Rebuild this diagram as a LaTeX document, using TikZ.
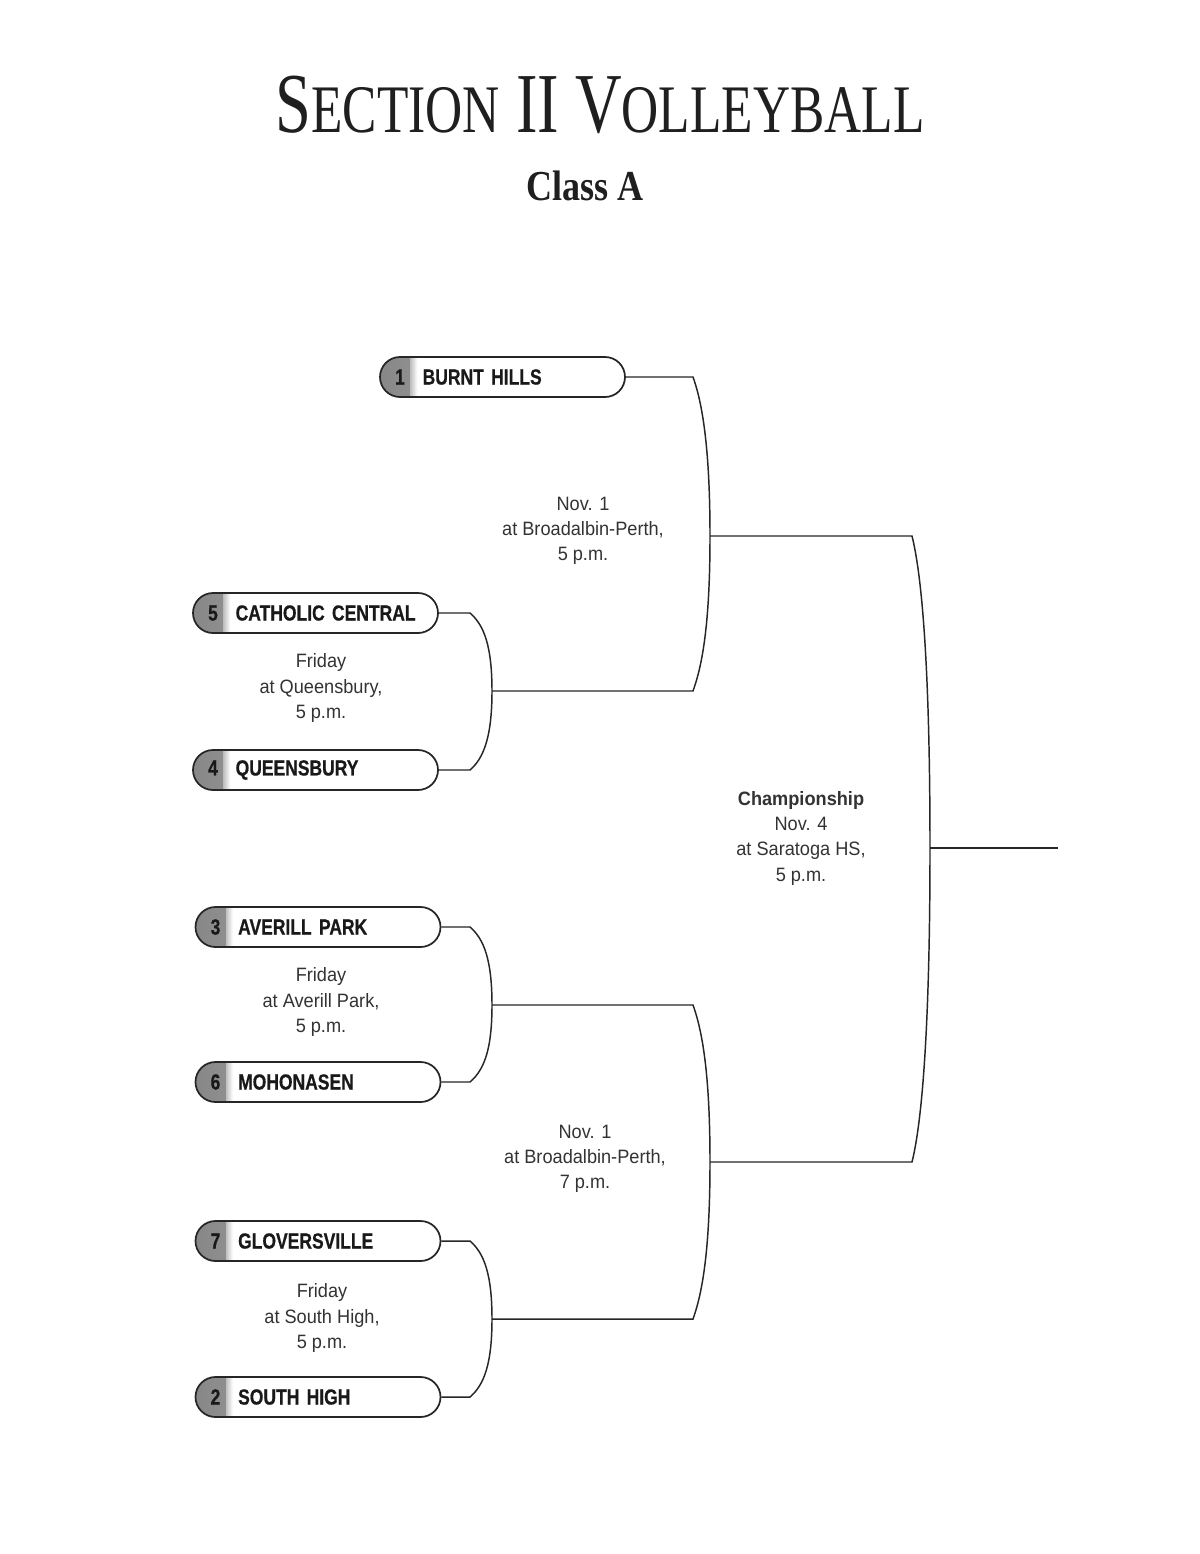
\documentclass[tikz,border=0pt]{standalone}
\usepackage{fontspec}
\setmainfont{Liberation Sans}
\newfontfamily\bodyfont[FakeStretch=0.94]{Liberation Sans}
\newfontfamily\teamfont[FakeStretch=0.8, WordSpace=0.75, BoldFeatures={FakeBold=0.6}]{Liberation Sans}
\newfontfamily\titlefont[FakeStretch=0.756]{Liberation Serif}
\newfontfamily\classfont[FakeStretch=0.845]{Liberation Serif}
\usepackage{tikz}
\usetikzlibrary{calc}

\newcommand{\seed}[2]{\hspace*{9pt}\makebox[12pt]{#1}\hspace*{11pt}#2}

\tikzset{
  team/.style={draw=black!85, line width=1.3pt, rounded corners=15pt,
    minimum height=30pt, text width=183.75pt, inner xsep=0pt, inner ysep=0pt,
    align=left, text=black!90, font=\teamfont\bfseries\fontsize{16.4}{18}\selectfont,
    path picture={
      \shade[sharp corners, left color=black!47, right color=black!24] (path picture bounding box.south west) rectangle ([xshift=23pt]path picture bounding box.north west);
      \shade[sharp corners, left color=black!24, right color=white] ([xshift=23pt]path picture bounding box.south west) rectangle ([xshift=28pt]path picture bounding box.north west);
    }},
  info/.style={align=center, text=black!80, font=\bodyfont\fontsize{14.5}{19}\selectfont},
  bracket/.style={line width=1.1pt, black!85}
}

\begin{document}
\begin{tikzpicture}[x=0.75pt,y=-0.75pt]
\fill[white] (0,0) rectangle (1200,1554);
\useasboundingbox (0,0) rectangle (1200,1554);

% heading
\node[anchor=base, text=black!88, font=\titlefont\fontsize{64}{64}\selectfont] (title) at (600,132)
  {S{\fontsize{51}{51}\selectfont ECTION} II V{\fontsize{51}{51}\selectfont OLLEYBALL}};
\node[anchor=base, text=black!88, font=\classfont\bfseries\fontsize{32}{32}\selectfont] (class) at (585,200) {Class A};

% teams
\node[team] (t1) at (502.5,377) {\seed{1}{BURNT HILLS}};
\node[team] (t5) at (315.5,613) {\seed{5}{CATHOLIC CENTRAL}};
\node[team] (t4) at (315.5,770) {\seed{4}{QUEENSBURY}};
\node[team] (t3) at (318,927) {\seed{3}{AVERILL PARK}};
\node[team] (t6) at (318,1082) {\seed{6}{MOHONASEN}};
\node[team] (t7) at (318,1241) {\seed{7}{GLOVERSVILLE}};
\node[team] (t2) at (318,1397) {\seed{2}{SOUTH HIGH}};

% first round
\coordinate (a5) at (470,613); \coordinate (a4) at (470,770); \coordinate (m54) at (492,691);
\coordinate (a3) at (470,927); \coordinate (a6) at (470,1082); \coordinate (m36) at (492,1005);
\coordinate (a7) at (470,1241); \coordinate (a2) at (470,1397); \coordinate (m72) at (492,1319);
\draw[bracket] (t5.east) -- (a5) .. controls +(14,12) and +(0,-45) .. (m54) .. controls +(0,45) and +(14,-12) .. (a4) -- (t4.east);
\draw[bracket] (t3.east) -- (a3) .. controls +(14,12) and +(0,-45) .. (m36) .. controls +(0,45) and +(14,-12) .. (a6) -- (t6.east);
\draw[bracket] (t7.east) -- (a7) .. controls +(14,12) and +(0,-45) .. (m72) .. controls +(0,45) and +(14,-12) .. (a2) -- (t2.east);

% semifinals
\coordinate (b1) at (693,377); \coordinate (b54) at (693,691); \coordinate (s1) at (710,536);
\coordinate (b36) at (693,1005); \coordinate (b72) at (693,1319); \coordinate (s2) at (710,1162);
\draw[bracket] (t1.east) -- (b1) .. controls +(9,25) and +(0,-90) .. (s1) .. controls +(0,90) and +(9,-25) .. (b54) -- (m54);
\draw[bracket] (m36) -- (b36) .. controls +(9,25) and +(0,-90) .. (s2) .. controls +(0,90) and +(9,-25) .. (b72) -- (m72);

% final
\coordinate (c1) at (912,536); \coordinate (c2) at (912,1162); \coordinate (f) at (930,848); \coordinate (win) at (1058,848);
\draw[bracket] (s1) -- (c1) .. controls +(10,40) and +(0,-180) .. (f) .. controls +(0,180) and +(10,-40) .. (c2) -- (s2);
\draw[bracket] (f) -- (win);

% game info
\node[info] (g1) at (583,531) {Nov. 1\\at Broadalbin-Perth,\\5 p.m.};
\node[info] (g2) at (321,688) {Friday\\at Queensbury,\\5 p.m.};
\node[info] (g3) at (321,1002) {Friday\\at Averill Park,\\5 p.m.};
\node[info] (g4) at (585,1159) {Nov. 1\\at Broadalbin-Perth,\\7 p.m.};
\node[info] (g5) at (322,1318) {Friday\\at South High,\\5 p.m.};
\node[info] (champ) at (801,838) {\textbf{Championship}\\Nov. 4\\at Saratoga HS,\\5 p.m.};
\end{tikzpicture}
\end{document}
